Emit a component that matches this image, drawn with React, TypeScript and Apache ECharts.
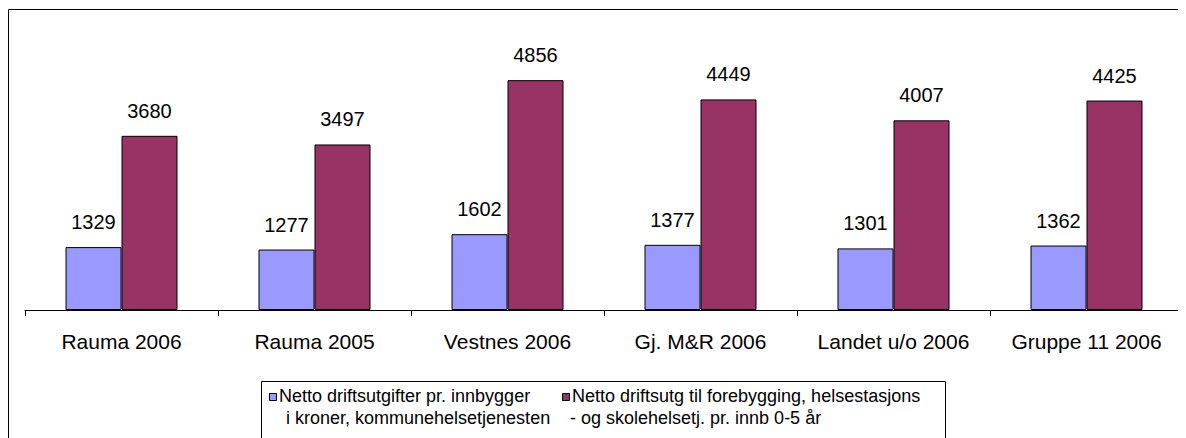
import React, { useEffect, useRef } from "react";
import * as echarts from "echarts";

const categories = ["Rauma 2006", "Rauma 2005", "Vestnes 2006", "Gj. M&R 2006", "Landet u/o 2006", "Gruppe 11 2006"];
const seriesA = [1329, 1277, 1602, 1377, 1301, 1362];
const seriesB = [3680, 3497, 4856, 4449, 4007, 4425];
const legendA = ["Netto driftsutgifter pr. innbygger", "i kroner, kommunehelsetjenesten"];
const legendB = ["Netto driftsutg til forebygging, helsestasjons", "- og skolehelsetj. pr. innb 0-5 år"];

const FONT = "'Liberation Sans', Arial, sans-serif";
const BLUE = "#9999FF";
const RED = "#993366";

export default function App() {
  const ref = useRef<HTMLDivElement>(null);
  useEffect(() => {
    if (!ref.current) return;
    const chart = echarts.init(ref.current, null, { renderer: "svg" });
    const labelCfg = {
      show: true,
      position: "top",
      distance: 15,
      color: "#000",
      fontSize: 20,
      fontFamily: FONT,
    };
    const legendText = (x: number, y: number, text: string) => ({
      type: "text",
      x,
      y,
      style: { text, fill: "#000", font: `18px ${FONT}`, verticalAlign: "middle", align: "left" },
    });
    chart.setOption({
      animation: false,
      backgroundColor: "#fff",
      textStyle: { fontFamily: FONT },
      grid: { left: 17, right: 3, top: 18, bottom: 128, containLabel: false },
      xAxis: {
        type: "category",
        data: categories,
        axisLine: { lineStyle: { color: "#000", width: 1 } },
        axisTick: { show: true, length: 6, interval: 0, lineStyle: { color: "#000" } },
        axisLabel: { color: "#000", fontSize: 21, fontFamily: FONT, margin: 21, interval: 0 },
      },
      yAxis: { type: "value", min: 0, max: 6000, show: false, splitLine: { show: false } },
      series: [
        {
          type: "bar",
          name: legendA.join(" "),
          data: seriesA,
          barWidth: 56,
          barGap: "0%",
          itemStyle: { color: BLUE, borderColor: "#000", borderWidth: 1 },
          label: labelCfg,
        },
        {
          type: "bar",
          name: legendB.join(" "),
          data: seriesB,
          barWidth: 56,
          barGap: "0%",
          itemStyle: { color: RED, borderColor: "#000", borderWidth: 1 },
          label: labelCfg,
        },
      ],
      graphic: [
        {
          type: "rect",
          shape: { x: 0.5, y: 1.5, width: 3000, height: 3000 },
          style: { fill: "none", stroke: "#000", lineWidth: 1 },
          silent: true,
        },
        {
          type: "rect",
          shape: { x: 253.5, y: 373.5, width: 684, height: 200 },
          style: { fill: "#fff", stroke: "#000", lineWidth: 1 },
          silent: true,
        },
        {
          type: "rect",
          shape: { x: 261.5, y: 385.5, width: 7, height: 7 },
          style: { fill: BLUE, stroke: "#000", lineWidth: 1 },
        },
        {
          type: "rect",
          shape: { x: 554.5, y: 385.5, width: 7, height: 7 },
          style: { fill: RED, stroke: "#000", lineWidth: 1 },
        },
        legendText(271, 388, legendA[0]),
        legendText(278, 410, legendA[1]),
        legendText(564, 388, legendB[0]),
        legendText(562, 410, legendB[1]),
      ],
    });
    return () => chart.dispose();
  }, []);
  return <div ref={ref} style={{ width: 1178, height: 430 }} />;
}
